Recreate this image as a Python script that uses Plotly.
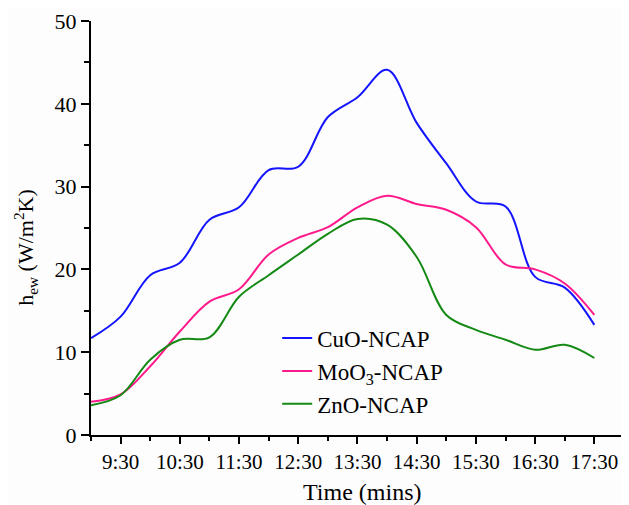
import plotly.graph_objects as go

times = [9.0, 9.5, 10.0, 10.5, 11.0, 11.5, 12.0, 12.5, 13.0, 13.5, 14.0, 14.5, 15.0, 15.5, 16.0, 16.5, 17.0, 17.5]
cuo = [11.7, 14.3, 19.3, 20.8, 26.0, 27.5, 32.0, 32.4, 38.4, 40.8, 44.1, 37.7, 32.8, 28.2, 27.6, 19.1, 17.8, 13.3]
moo3 = [4.0, 4.9, 8.3, 12.5, 16.1, 17.6, 21.8, 23.8, 25.1, 27.5, 28.9, 27.9, 27.2, 25.1, 20.6, 20.0, 18.3, 14.5]
zno = [3.6, 4.8, 9.1, 11.5, 11.8, 16.7, 19.3, 21.8, 24.3, 26.1, 25.4, 21.5, 14.5, 12.7, 11.5, 10.3, 10.9, 9.3]

tick_vals = [9.5, 10.5, 11.5, 12.5, 13.5, 14.5, 15.5, 16.5, 17.5]
tick_text = ["9:30", "10:30", "11:30", "12:30", "13:30", "14:30", "15:30", "16:30", "17:30"]

series = [
    ("CuO-NCAP", cuo, "#1414ff"),
    ("MoO<sub>3</sub>-NCAP", moo3, "#ff1a8c"),
    ("ZnO-NCAP", zno, "#148a14"),
]

fig = go.Figure()
for name, vals, col in series:
    fig.add_trace(go.Scatter(
        x=times, y=vals, mode="lines", name=name,
        line=dict(color=col, width=2, shape="spline", smoothing=1.0),
    ))

font_family = "Liberation Serif"
fig.update_layout(
    width=629, height=505,
    margin=dict(l=83, r=0, t=13, b=78),
    paper_bgcolor="#fdfdfd", plot_bgcolor="#fdfdfd",
    font=dict(family=font_family, color="black", size=20),
    showlegend=True,
    legend=dict(
        x=0.341, y=0.286, xanchor="left", yanchor="top",
        bgcolor="rgba(0,0,0,0)", borderwidth=0,
        font=dict(family=font_family, size=23, color="black"),
        tracegroupgap=0,
    ),
    xaxis=dict(
        range=[9.0, 18.22], showgrid=False, zeroline=False, automargin=False,
        showline=True, linecolor="black", linewidth=2,
        tickmode="array", tickvals=tick_vals, ticktext=tick_text,
        ticks="outside", ticklen=7, tickwidth=2, tickcolor="black",
        tickfont=dict(family=font_family, size=21),
        minor=dict(tick0=9, dtick=1, ticks="outside", ticklen=4, tickwidth=2, tickcolor="black", showgrid=False),
    ),
    yaxis=dict(
        range=[0, 50], showgrid=False, zeroline=False, automargin=False,
        showline=True, linecolor="black", linewidth=2,
        tickmode="linear", tick0=0, dtick=10,
        ticks="outside", ticklen=8, tickwidth=2, tickcolor="black",
        tickfont=dict(family=font_family, size=22),
        minor=dict(tick0=5, dtick=10, ticks="outside", ticklen=5, tickwidth=2, tickcolor="black", showgrid=False),
    ),
    annotations=[
        dict(text="Time (mins)", xref="paper", yref="paper", x=0.496, y=0,
             xanchor="center", yanchor="middle", yshift=-57, showarrow=False,
             font=dict(family=font_family, size=24, color="black")),
        dict(text="h<sub>ew</sub> (W/m<sup>2</sup>K)", xref="paper", yref="paper", x=0, y=0.452,
             xanchor="center", yanchor="middle", xshift=-65, textangle=-90, showarrow=False,
             font=dict(family=font_family, size=22, color="black")),
    ],
)

fig.write_html("out.html")
